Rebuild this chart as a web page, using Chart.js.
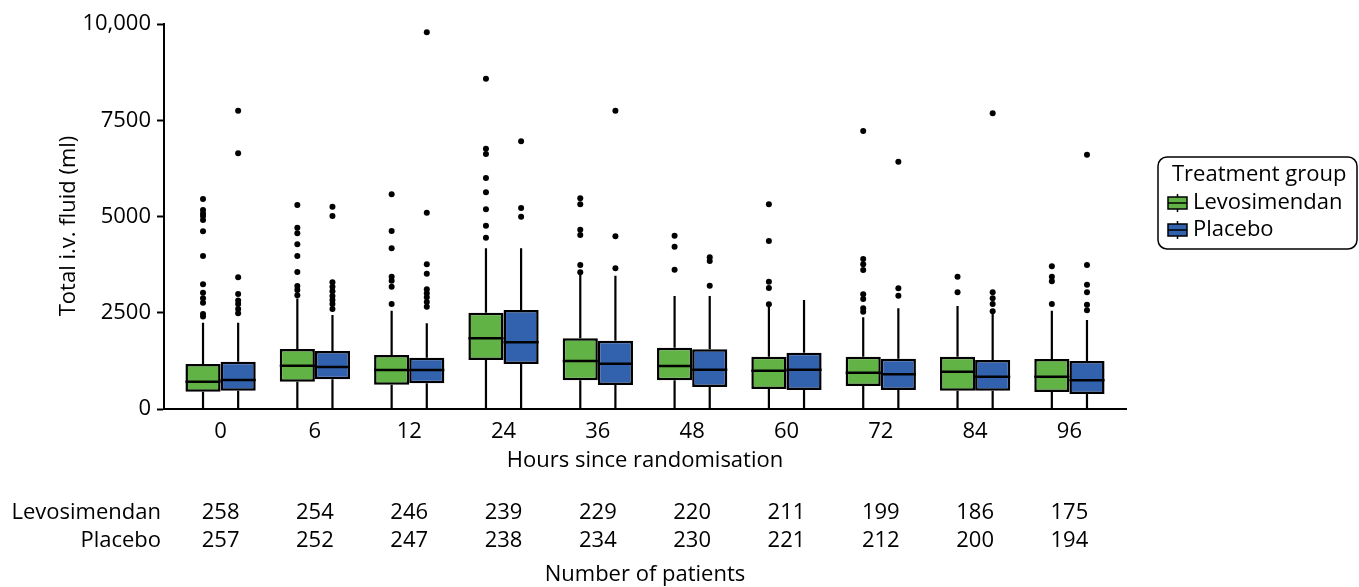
<!DOCTYPE html>
<html>
<head>
<meta charset="utf-8">
<script src="https://cdn.jsdelivr.net/npm/chart.js@4.4.1/dist/chart.umd.min.js"></script>
<style>
    body { margin: 0; background: #fff; }
</style>
</head>
<body>
<canvas id="myChart" width="1359" height="587"></canvas>
<script>
// categories and ticks
const hours = ['0', '6', '12', '24', '36', '48', '60', '72', '84', '96'];
const yTicks = [0, 2500, 5000, 7500, 10000];

// number of patients
const nLevo = [258, 254, 246, 239, 229, 220, 211, 199, 186, 175];
const nPlac = [257, 252, 247, 238, 234, 230, 221, 212, 200, 194];

// Levosimendan box plot values (ml)
const levoLo  = [0, 0, 0, 0, 0, 0, 0, 0, 0, 0];
const levoQ1  = [449, 709, 632, 1273, 745, 745, 519, 597, 476, 442];
const levoMed = [709, 1125, 1013, 1835, 1247, 1117, 995, 944, 970, 840];
const levoQ3  = [1169, 1558, 1403, 2502, 1835, 1593, 1359, 1359, 1359, 1299];
const levoHi  = [2242, 2870, 2554, 4173, 3480, 2935, 2690, 2381, 2675, 2554];
const levoOut = [
    [5455, 5170, 5080, 5010, 4910, 4620, 3975, 3240, 3020, 2875, 2760, 2470, 2400],
    [5299, 4710, 4563, 4277, 3974, 3558, 3195, 3091, 2953],
    [5576, 4623, 4173, 3437, 3333, 3177, 2727],
    [8580, 6762, 6623, 6000, 5628, 5187, 4762, 4450],
    [5472, 5316, 4658, 4519, 3740, 3550],
    [4502, 4216, 3619],
    [5316, 4364, 3307, 3143, 2719],
    [7221, 3896, 3758, 3610, 2979, 2857, 2615, 2528],
    [3437, 3030],
    [3706, 3437, 3316, 2727]
];

// Placebo box plot values (ml)
const placLo  = [0, 0, 0, 0, 0, 0, 0, 0, 0, 0];
const placQ1  = [476, 771, 667, 1169, 623, 571, 494, 494, 476, 390];
const placMed = [753, 1091, 1013, 1732, 1177, 1021, 1021, 900, 840, 745];
const placQ3  = [1229, 1506, 1333, 2571, 1775, 1550, 1463, 1307, 1273, 1247];
const placHi  = [2242, 2442, 2225, 4173, 3463, 2935, 2831, 2615, 2500, 2312];
const placOut = [
    [7750, 6640, 3420, 2990, 2815, 2730, 2600, 2490],
    [5255, 5013, 3290, 3177, 3056, 2935, 2831, 2727, 2597],
    [9784, 5100, 3758, 3515, 3108, 3004, 2901, 2779, 2658],
    [6953, 5221, 4995],
    [7749, 4485, 3654],
    [3940, 3844, 3203],
    [],
    [6424, 3134, 2944],
    [7680, 3030, 2875, 2727, 2537],
    [6606, 3740, 3229, 3030, 2710, 2563]
];

const green = '#62b346', blue = '#3262ae';
const FONT = "'Open Sans', sans-serif";

Chart.defaults.font.family = FONT;
Chart.defaults.font.size = 22;
Chart.defaults.color = '#000';

function boxData(q1, q3) {
    return q1.map((v, i) => ({x: i, y: [v, q3[i]]}));
}

// whiskers, medians, outliers, legend and the patient table
const boxParts = {
    id: 'boxParts',
    beforeDatasetsDraw(chart) {
        const ctx = chart.ctx, y = chart.scales.y;
        ctx.save();
        ctx.strokeStyle = '#000';
        ctx.lineWidth = 2.2;
        chart.data.datasets.forEach((ds, d) => {
            chart.getDatasetMeta(d).data.forEach((bar, i) => {
                ctx.beginPath();
                ctx.moveTo(bar.x, y.getPixelForValue(ds.hi[i]));
                ctx.lineTo(bar.x, y.getPixelForValue(ds.q3[i]));
                ctx.moveTo(bar.x, y.getPixelForValue(ds.q1[i]));
                ctx.lineTo(bar.x, y.getPixelForValue(ds.lo[i]));
                ctx.stroke();
            });
        });
        ctx.restore();
    },
    afterDatasetsDraw(chart) {
        const ctx = chart.ctx, y = chart.scales.y;
        ctx.save();
        ctx.strokeStyle = '#000';
        ctx.fillStyle = '#000';
        ctx.lineWidth = 2.5;
        chart.data.datasets.forEach((ds, d) => {
            chart.getDatasetMeta(d).data.forEach((bar, i) => {
                const py = y.getPixelForValue(ds.med[i]);
                ctx.beginPath();
                ctx.moveTo(bar.x - bar.width / 2, py);
                ctx.lineTo(bar.x + bar.width / 2, py);
                ctx.stroke();
                ds.out[i].forEach(v => {
                    ctx.beginPath();
                    ctx.arc(bar.x, y.getPixelForValue(v), 3, 0, Math.PI * 2);
                    ctx.fill();
                });
            });
        });
        ctx.restore();
    },
    afterDraw(chart) {
        const ctx = chart.ctx, x = chart.scales.x, area = chart.chartArea;
        const mid = (area.left + area.right) / 2;
        ctx.save();
        ctx.fillStyle = '#000';
        ctx.font = '22px ' + FONT;
        ctx.textBaseline = 'middle';

        // axis titles
        ctx.textAlign = 'center';
        ctx.fillText('Hours since randomisation', mid, 461);
        ctx.fillText('Number of patients', mid, 575);
        ctx.save();
        ctx.translate(69, 226);
        ctx.rotate(-Math.PI / 2);
        ctx.fillText('Total i.v. fluid (ml)', 0, 0);
        ctx.restore();

        // patient numbers
        hours.forEach((h, i) => {
            const px = x.getPixelForValue(i);
            ctx.fillText(String(nLevo[i]), px, 513);
            ctx.fillText(String(nPlac[i]), px, 541);
        });
        ctx.textAlign = 'right';
        ctx.fillText('Levosimendan', 161, 513);
        ctx.fillText('Placebo', 161, 541);

        // legend
        ctx.lineWidth = 1.5;
        ctx.strokeStyle = '#000';
        ctx.beginPath();
        ctx.roundRect(1158, 157, 199, 92, 9);
        ctx.stroke();
        ctx.textAlign = 'left';
        ctx.fillText('Treatment group', 1172, 175);
        [['Levosimendan', green, 203], ['Placebo', blue, 230]].forEach(([label, col, cy]) => {
            ctx.lineWidth = 1.5;
            ctx.beginPath();
            ctx.moveTo(1177.5, cy - 9);
            ctx.lineTo(1177.5, cy + 9);
            ctx.stroke();
            ctx.fillStyle = col;
            ctx.fillRect(1168, cy - 6, 19, 12);
            ctx.strokeRect(1168, cy - 6, 19, 12);
            ctx.beginPath();
            ctx.moveTo(1168, cy);
            ctx.lineTo(1187, cy);
            ctx.stroke();
            ctx.fillStyle = '#000';
            ctx.fillText(label, 1193, cy);
        });
        ctx.restore();
    }
};

const ctx = document.getElementById('myChart');
const myChart = new Chart(ctx, {
    type: 'bar',
    data: {
        datasets: [
            {
                label: 'Levosimendan',
                data: boxData(levoQ1, levoQ3),
                backgroundColor: green,
                borderColor: '#000',
                borderWidth: 2.5,
                borderSkipped: false,
                lo: levoLo, q1: levoQ1, med: levoMed, q3: levoQ3, hi: levoHi, out: levoOut
            },
            {
                label: 'Placebo',
                data: boxData(placQ1, placQ3),
                backgroundColor: blue,
                borderColor: '#000',
                borderWidth: 2.5,
                borderSkipped: false,
                lo: placLo, q1: placQ1, med: placMed, q3: placQ3, hi: placHi, out: placOut
            }
        ]
    },
    options: {
        responsive: false,
        animation: false,
        events: [],
        categoryPercentage: 0.745,
        barPercentage: 1.0,
        layout: {padding: {top: 24, right: 233, bottom: 0, left: 0}},
        plugins: {legend: {display: false}, tooltip: {enabled: false}},
        scales: {
            x: {
                type: 'linear',
                min: -0.6,
                max: 9.6,
                offset: false,
                grid: {display: false, offset: false},
                border: {display: true, color: '#000', width: 2},
                afterBuildTicks: function (scale) {
                    scale.ticks = hours.map((h, i) => ({value: i}));
                },
                afterFit: function (scale) { scale.height = 178; },
                ticks: {
                    padding: 2,
                    autoSkip: false,
                    maxRotation: 0,
                    callback: function (v) { return hours[v]; }
                }
            },
            y: {
                min: 0,
                max: 10000,
                grid: {drawOnChartArea: false, drawTicks: true, tickLength: 7, tickWidth: 2, tickColor: '#000'},
                border: {display: true, color: '#000', width: 2},
                afterBuildTicks: function (scale) {
                    scale.ticks = yTicks.map(v => ({value: v}));
                },
                afterFit: function (scale) { scale.width = 164; },
                ticks: {
                    padding: 6,
                    callback: function (v) { return v === 10000 ? '10,000' : String(v); }
                }
            }
        }
    },
    plugins: [boxParts]
});
</script>
</body>
</html>
